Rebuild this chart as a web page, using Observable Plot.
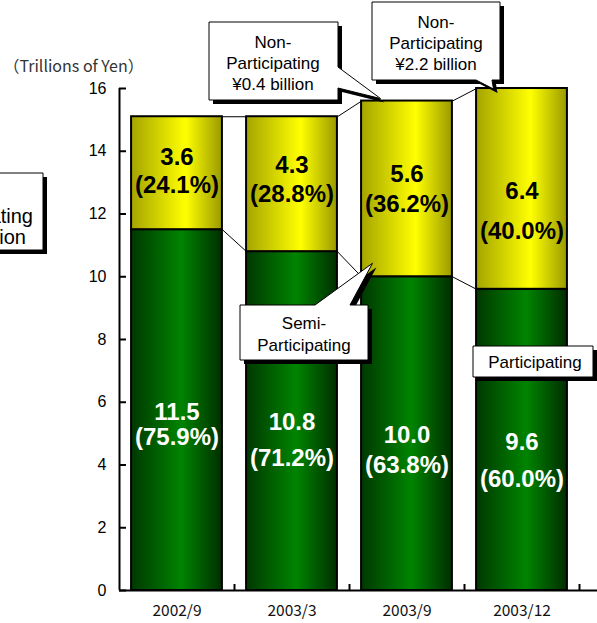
<!DOCTYPE html>
<html><head><meta charset="utf-8">
<script src="https://cdn.jsdelivr.net/npm/d3@7"></script>
<script src="https://cdn.jsdelivr.net/npm/@observablehq/plot@0.6"></script>
<style>
html,body{margin:0;padding:0;background:#fff;overflow:hidden;}
#chart{position:absolute;left:0;top:0;}
</style>
</head><body>
<svg width="0" height="0" style="position:absolute">
  <defs>
    <linearGradient id="gradGreen" x1="0" x2="1" y1="0" y2="0">
      <stop offset="0" stop-color="#003800"/>
      <stop offset="0.55" stop-color="#008400"/>
      <stop offset="1" stop-color="#002e00"/>
    </linearGradient>
    <linearGradient id="gradYellow" x1="0" x2="1" y1="0" y2="0">
      <stop offset="0" stop-color="#a4a400"/>
      <stop offset="0.6" stop-color="#ffff00"/>
      <stop offset="1" stop-color="#9a9a00"/>
    </linearGradient>
  </defs>
</svg>
<div id="chart"></div>
<script>
// ---- data ----
const categories = ["2002/9", "2003/3", "2003/9", "2003/12"];
const participating = [11.5, 10.8, 10.0, 9.6];
const semiParticipating = [3.6, 4.3, 5.6, 6.4];
const participatingShare = ["75.9%", "71.2%", "63.8%", "60.0%"];
const semiShare = ["24.1%", "28.8%", "36.2%", "40.0%"];
const yTicks = [0, 2, 4, 6, 8, 10, 12, 14, 16];
const unitLabel = "（Trillions of Yen）";
const calloutTexts = [
  ["Non-", "Participating", "billion"],
  ["Non-", "Participating", "¥0.4 billion"],
  ["Non-", "Participating", "¥2.2 billion"],
  ["Semi-", "Participating"],
  ["Participating"]
];

// ---- layout / style ----
const HW = 0.395; // half bar width in band units
const idx = categories.map((_, i) => i);
const totals = idx.map(i => participating[i] + semiParticipating[i]);
const semiValDy = [-16, -19, -15, 2];
const semiPctDy = [12, 10, 15, 42];
const partValDy = [2, 1, 2, 2];
const partPctDy = [27, 37, 32, 39];
const labelFont = "Liberation Sans, Arial, sans-serif";
const boxFont = "Liberation Sans, Arial, sans-serif";

// callout geometry (pixels), tips anchored to data via scales
const callouts = [
  {box: [-110, 173, 43, 250], anchor: "end", size: 20, xs: [-20, 33, 26], lines: [195, 216, 237]},
  {box: [209, 22, 338, 100], xs: [273, 273, 273], lines: [42, 63, 84], ptr: "right", base: [67, 88], at: [2, totals[2]], off: [-26, -2]},
  {box: [372, 2, 500, 80], xs: [436, 436, 436], lines: [22, 43, 64], ptr: "bottom", base: [476, 492], at: [3, totals[3]], off: [-28, 1]},
  {box: [240, 305, 368, 360], xs: [304, 304], lines: [323, 345], ptr: "top", base: [315, 350], at: [2, participating[2]], off: [-34, -13]},
  {box: [473, 346, 593, 377], xs: [535], lines: [362]}
];

function calloutPath(c, tip) {
  const [l, t, r, b] = c.box;
  if (c.ptr === "right") {
    return `M${l},${t}H${r}V${c.base[0]}L${tip[0]},${tip[1]}L${r},${c.base[1]}V${b}H${l}Z`;
  } else if (c.ptr === "bottom") {
    return `M${l},${t}H${r}V${b}H${c.base[1]}L${tip[0]},${tip[1]}L${c.base[0]},${b}H${l}Z`;
  } else if (c.ptr === "top") {
    return `M${l},${t}H${c.base[0]}L${tip[0]},${tip[1]}L${c.base[1]},${t}H${r}V${b}H${l}Z`;
  }
  return `M${l},${t}H${r}V${b}H${l}Z`;
}

function calloutMark(index, scales) {
  const g = d3.create("svg:g");
  callouts.forEach((c, k) => {
    const tip = c.at ? [scales.x(c.at[0]) + c.off[0], scales.y(c.at[1]) + c.off[1]] : null;
    const d = calloutPath(c, tip);
    g.append("path").attr("d", d).attr("transform", "translate(4,4)").attr("fill", "#000");
    g.append("path").attr("d", d).attr("fill", "#fff").attr("stroke", "#000").attr("stroke-width", 1);
    calloutTexts[k].forEach((s, j) => {
      g.append("text")
        .attr("x", c.xs[j])
        .attr("y", c.lines[j])
        .attr("dy", "0.35em")
        .attr("text-anchor", c.anchor || "middle")
        .attr("font-family", boxFont)
        .attr("font-size", c.size || 17)
        .attr("fill", "#000")
        .text(s);
    });
  });
  return g.node();
}

const segLabels = idx.flatMap(i => [
  Plot.text([i], {x: i => i, y: i => participating[i] + semiParticipating[i] / 2, text: i => semiParticipating[i].toFixed(1),
    dy: semiValDy[i], fontSize: 24, fontWeight: "bold", fontFamily: labelFont, fill: "#000"}),
  Plot.text([i], {x: i => i, y: i => participating[i] + semiParticipating[i] / 2, text: i => `(${semiShare[i]})`,
    dy: semiPctDy[i], fontSize: 24, fontWeight: "bold", fontFamily: labelFont, fill: "#000"}),
  Plot.text([i], {x: i => i, y: i => participating[i] / 2, text: i => participating[i].toFixed(1),
    dy: partValDy[i], fontSize: 24, fontWeight: "bold", fontFamily: labelFont, fill: "#fff"}),
  Plot.text([i], {x: i => i, y: i => participating[i] / 2, text: i => `(${participatingShare[i]})`,
    dy: partPctDy[i], fontSize: 24, fontWeight: "bold", fontFamily: labelFont, fill: "#fff"})
]);

const pairs = idx.slice(0, -1);

const chart = Plot.plot({
  width: 597,
  height: 623,
  marginLeft: 119,
  marginRight: 18,
  marginTop: 88,
  marginBottom: 33,
  style: {background: "#fff", overflow: "visible"},
  x: {type: "linear", domain: [-0.5, categories.length - 0.5], axis: null},
  y: {domain: [0, 16], axis: null},
  marks: [
    // connector lines
    Plot.link(pairs, {x1: i => i + HW, x2: i => i + 1 - HW, y1: i => totals[i], y2: i => totals[i + 1], stroke: "#000", strokeWidth: 1}),
    Plot.link(pairs, {x1: i => i + HW, x2: i => i + 1 - HW, y1: i => participating[i], y2: i => participating[i + 1], stroke: "#000", strokeWidth: 1}),
    // bars
    Plot.rect(idx, {x1: i => i - HW, x2: i => i + HW, y1: 0, y2: i => participating[i], fill: "url(#gradGreen)", stroke: "#000", strokeWidth: 2}),
    Plot.rect(idx, {x1: i => i - HW, x2: i => i + HW, y1: i => participating[i], y2: i => totals[i], fill: "url(#gradYellow)", stroke: "#000", strokeWidth: 2}),
    ...segLabels,
    // axes
    Plot.ruleX([-0.5], {y1: 0, y2: 16, stroke: "#000", strokeWidth: 2}),
    Plot.ruleY(yTicks, {x1: -0.5, x2: -0.5, insetRight: -7, stroke: "#000", strokeWidth: 2}),
    Plot.ruleY([0], {stroke: "#000", strokeWidth: 2, insetRight: -18}),
    Plot.ruleX(idx.map(i => i + 0.5), {y1: 0, y2: 0, insetTop: -6, stroke: "#000", strokeWidth: 2}),
    Plot.axisY(yTicks, {tickSize: 0, tickPadding: 13, fontSize: 16, fontFamily: labelFont, fill: "#000", label: null}),
    Plot.axisX(idx, {tickSize: 0, tickPadding: 14, tickFormat: i => categories[i], fontSize: 15.5, fontFamily: "Noto Sans CJK JP", fill: "#111", label: null}),
    Plot.text([unitLabel], {frameAnchor: "top-left", dx: -116, dy: -28, textAnchor: "start", fontSize: 16, fontFamily: "Noto Sans CJK JP", fill: "#333"}),
    calloutMark
  ]
});
document.getElementById("chart").appendChild(chart);
</script>
</body></html>
